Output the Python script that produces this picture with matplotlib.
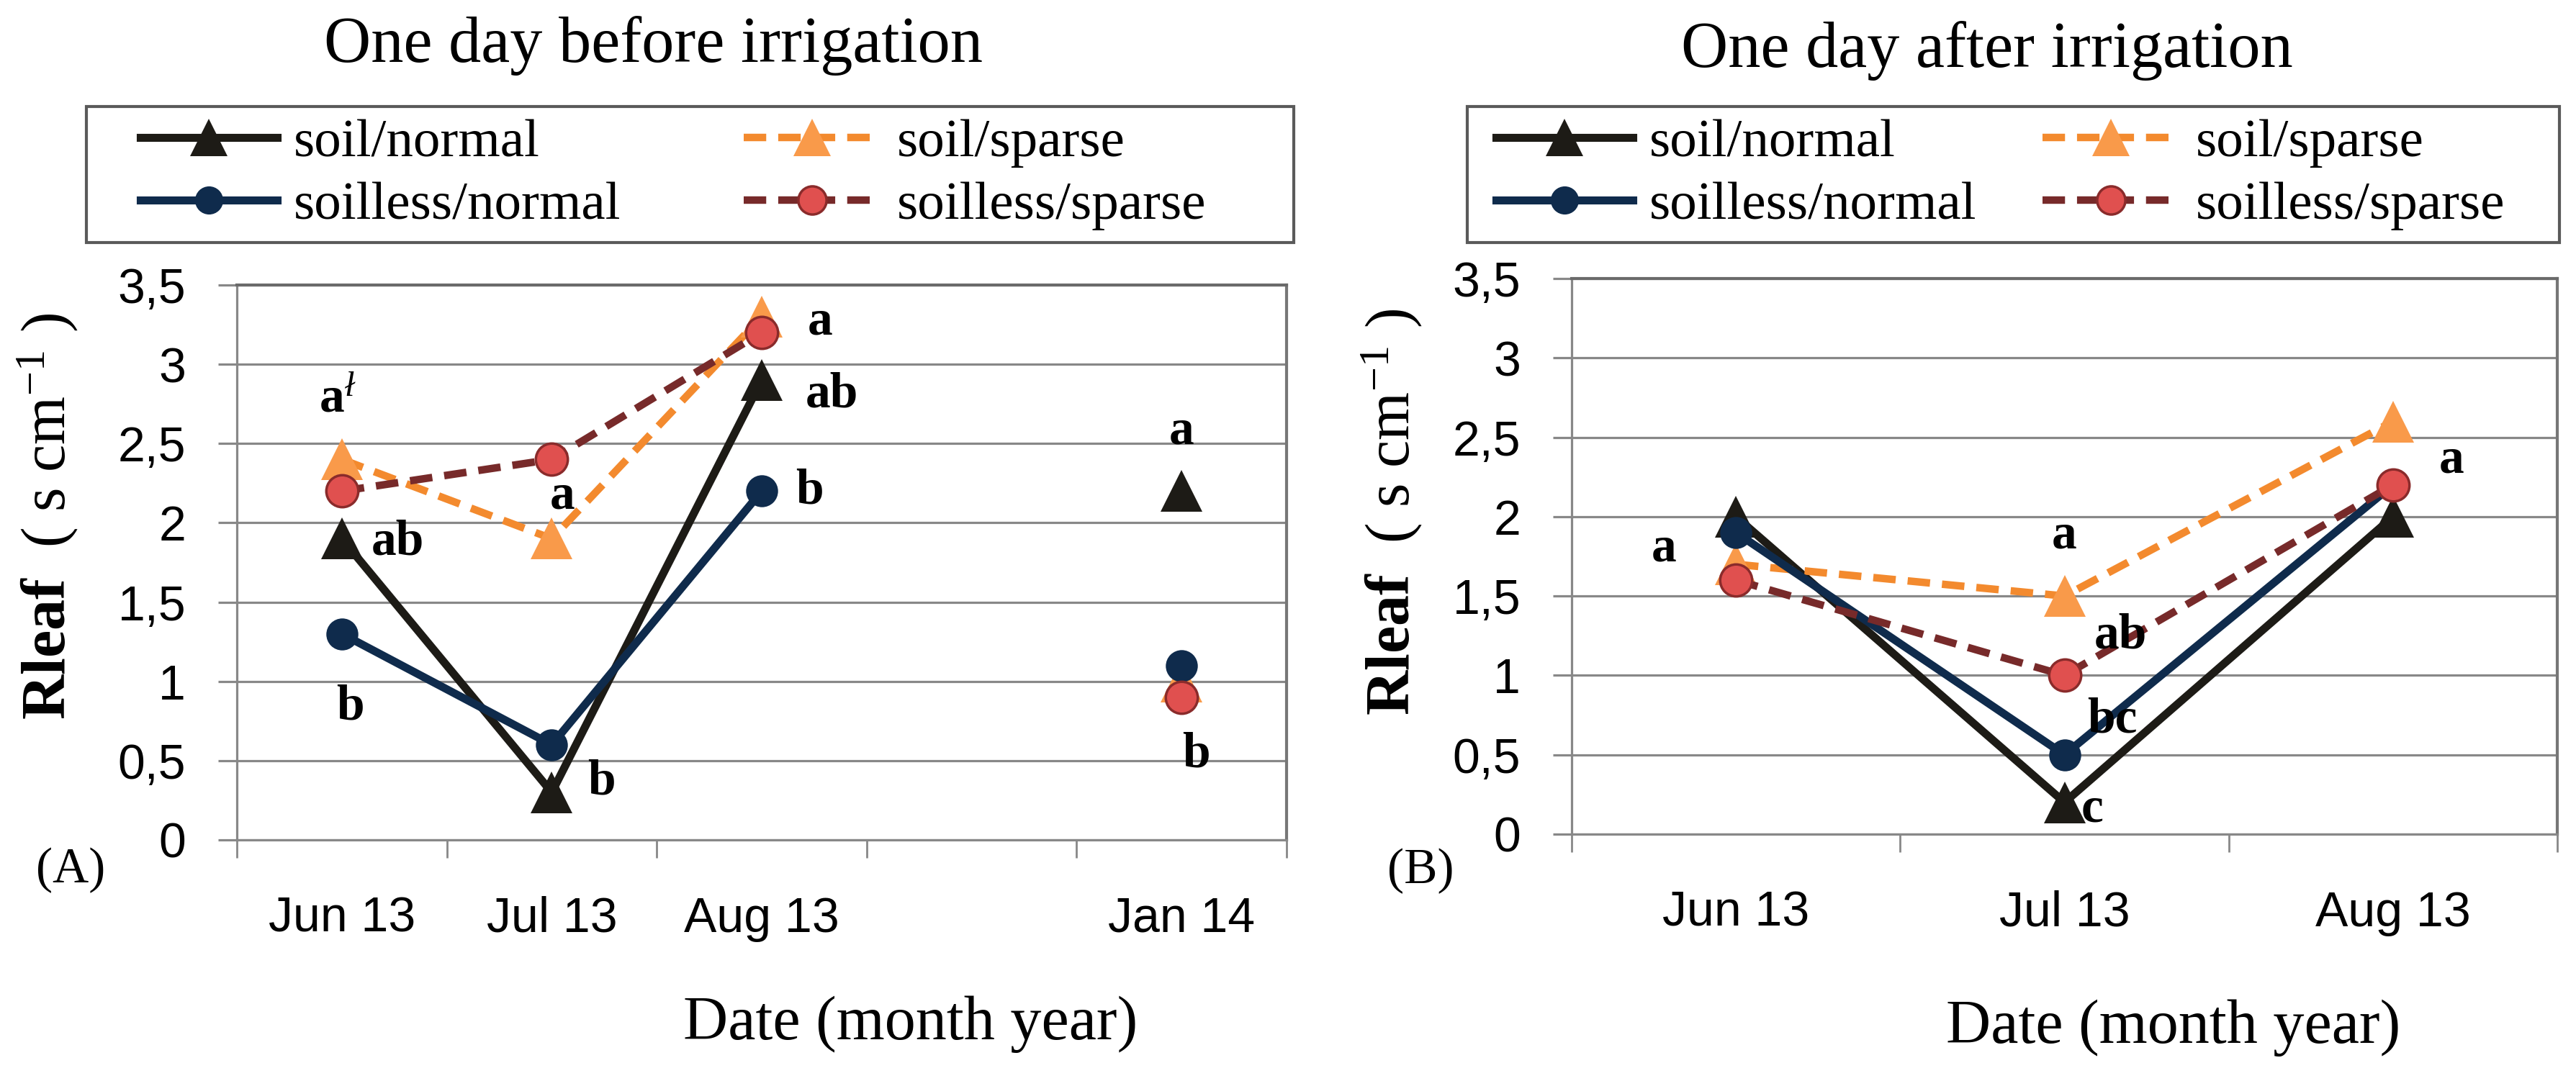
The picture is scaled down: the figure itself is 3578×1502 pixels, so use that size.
import numpy as np
import matplotlib
matplotlib.use("Agg")
import matplotlib.pyplot as plt
from matplotlib.lines import Line2D
from matplotlib.patches import Rectangle

# ---------------- data ----------------
cats_a = ["Jun 13", "Jul 13", "Aug 13", "", "Jan 14"]
soil_normal_a = [1.9, 0.3, 2.9, np.nan, 2.2]
soil_sparse_a = [2.4, 1.9, 3.3, np.nan, 1.0]
soilless_normal_a = [1.3, 0.6, 2.2, np.nan, 1.1]
soilless_sparse_a = [2.2, 2.4, 3.2, np.nan, 0.9]

cats_b = ["Jun 13", "Jul 13", "Aug 13"]
soil_normal_b = [2.0, 0.2, 2.0]
soil_sparse_b = [1.7, 1.5, 2.6]
soilless_normal_b = [1.9, 0.5, 2.2]
soilless_sparse_b = [1.6, 1.0, 2.2]

series_names = ["soil/normal", "soil/sparse", "soilless/normal", "soilless/sparse"]
yticks = [0, 0.5, 1, 1.5, 2, 2.5, 3, 3.5]
ytick_labels = ["0", "0,5", "1", "1,5", "2", "2,5", "3", "3,5"]

# significance letters: (category index, y value, text, horizontal shift, ha)
letters_a = [
    (0, 2.70, r"a$^{ł}$", -0.02, "center"),
    (0, 1.80, "ab", 0.14, "left"),
    (0, 0.76, "b", 0.04, "center"),
    (1, 2.09, "a", 0.05, "center"),
    (1, 0.29, "b", 0.17, "left"),
    (2, 3.19, "a", 0.22, "left"),
    (2, 2.73, "ab", 0.21, "left"),
    (2, 2.12, "b", 0.16, "left"),
    (4, 2.50, "a", 0.0, "center"),
    (4, 0.46, "b", 0.07, "center"),
]
letters_b = [
    (0, 1.72, "a", -0.22, "center"),
    (1, 1.80, "a", 0.0, "center"),
    (1, 1.17, "ab", 0.09, "left"),
    (1, 0.64, "bc", 0.07, "left"),
    (1, 0.08, "c", 0.05, "left"),
    (2, 2.28, "a", 0.14, "left"),
]

# ---------------- style ----------------
plt.rcParams["font.family"] = ["Liberation Serif", "DejaVu Serif"]
plt.rcParams["mathtext.fontset"] = "custom"
plt.rcParams["mathtext.rm"] = "Liberation Serif"
plt.rcParams["mathtext.bf"] = "Liberation Serif:bold"
plt.rcParams["mathtext.it"] = "Liberation Serif:italic"

TICKFONT = ["Liberation Sans Narrow", "Liberation Sans", "DejaVu Sans"]
GRID = "#888888"

styles = {
    "soil/normal": dict(color="#1d1b16", ls="-", lw=8, marker="^", ms=42,
                        mfc="#1d1b16", mec="#1d1b16", mew=0),
    "soil/sparse": dict(color="#f38a2e", ls=(0, (3, 1.6)), lw=7.5, marker="^", ms=42,
                        mfc="#f99a4a", mec="#f99a4a", mew=0),
    "soilless/normal": dict(color="#0f2b4c", ls="-", lw=8, marker="o", ms=32,
                            mfc="#0f2b4c", mec="#0f2b4c", mew=0),
    "soilless/sparse": dict(color="#772a2a", ls=(0, (3, 1.6)), lw=7.5, marker="o", ms=32,
                            mfc="#e0504f", mec="#8a2b2b", mew=2.5),
}

W, H = 3578, 1502
fig = plt.figure(figsize=(W / 100, H / 100), dpi=100)

def fx(px):
    return px / W

def fy(py):
    return 1 - py / H

def make_panel(rect, cats, data, letters, title, title_xy, xlabel_xy, ylabel_x,
               panel_tag, tag_xy, legend_box, legend_cols_x, ylabel_yc):
    ax = fig.add_axes(rect)
    x = np.arange(len(cats))
    for name in series_names:
        st = styles[name]
        ax.plot(x, data[name], linestyle=st["ls"], color=st["color"], lw=st["lw"],
                marker=st["marker"], markersize=st["ms"], markerfacecolor=st["mfc"],
                markeredgecolor=st["mec"], markeredgewidth=st["mew"],
                solid_joinstyle="miter", dash_capstyle="butt", zorder=3)
    ax.set_xlim(-0.5, len(cats) - 0.5)
    ax.set_ylim(0, 3.5)
    ax.set_yticks(yticks)
    ax.set_yticklabels(ytick_labels, family=TICKFONT, fontsize=49)
    ax.grid(axis="y", color=GRID, lw=2.3, zorder=0)
    ax.set_axisbelow(True)
    ax.set_xticks(x)
    ax.set_xticklabels(cats, family=TICKFONT, fontsize=49)
    ax.set_xticks(np.arange(len(cats) + 1) - 0.5, minor=True)
    ax.tick_params(axis="x", which="major", length=0, pad=56)
    ax.tick_params(axis="x", which="minor", length=18, width=2, color=GRID, direction="out")
    ax.tick_params(axis="y", length=19, width=2.3, color=GRID, direction="out", pad=32)
    for side in ["left", "right", "bottom"]:
        ax.spines[side].set_color(GRID)
        ax.spines[side].set_linewidth(2.3)
    ax.spines["top"].set_color("#6a6a6a")
    ax.spines["top"].set_linewidth(3)
    ax.spines["right"].set_color("#777777")
    ax.spines["right"].set_linewidth(3)

    for (ci, yv, txt, dx, ha) in letters:
        ax.text(ci + dx, yv, txt, ha=ha, va="baseline", fontsize=50,
                fontweight="bold", zorder=5)

    fig.text(fx(title_xy[0]), fy(title_xy[1]), title, ha="center", va="baseline",
             fontsize=65)
    fig.text(fx(xlabel_xy[0]), fy(xlabel_xy[1]), "Date (month year)", ha="center",
             va="baseline", fontsize=62)
    fig.text(fx(ylabel_x), fy(ylabel_yc), r"$\mathbf{Rleaf}$  ( s cm$^{-1}$ )",
             rotation=90, ha="center", va="center", fontsize=62)
    fig.text(fx(tag_xy[0]), fy(tag_xy[1]), panel_tag, ha="center", va="center",
             fontsize=50)

    # legend: frame + two columns
    x0, y0, x1, y1 = legend_box
    fig.add_artist(Rectangle((fx(x0), fy(y1)), fx(x1) - fx(x0), fy(y0) - fy(y1),
                             transform=fig.transFigure, fill=False,
                             edgecolor="#5a5a5a", lw=3))
    columns = [["soil/normal", "soilless/normal"], ["soil/sparse", "soilless/sparse"]]
    for col_names, cx in zip(columns, legend_cols_x):
        handles = []
        for name in col_names:
            st = styles[name]
            handles.append(Line2D([], [], linestyle=st["ls"], color=st["color"], lw=st["lw"],
                                  marker=st["marker"], markersize=st["ms"] * 0.88,
                                  markerfacecolor=st["mfc"], markeredgecolor=st["mec"],
                                  markeredgewidth=st["mew"], dash_capstyle="butt"))
        leg = fig.legend(handles, col_names, loc="center left",
                         bbox_to_anchor=(fx(cx), fy((y0 + y1) / 2)),
                         fontsize=54, frameon=False, handlelength=2.53,
                         handletextpad=0.31, labelspacing=0.25, borderpad=0,
                         borderaxespad=0)
    return ax

data_a = {"soil/normal": soil_normal_a, "soil/sparse": soil_sparse_a,
          "soilless/normal": soilless_normal_a, "soilless/sparse": soilless_sparse_a}
data_b = {"soil/normal": soil_normal_b, "soil/sparse": soil_sparse_b,
          "soilless/normal": soilless_normal_b, "soilless/sparse": soilless_sparse_b}

rect_a = [fx(329), fy(1167), fx(1787) - fx(329), fy(396) - fy(1167)]
rect_b = [fx(2183), fy(1159), fx(3552) - fx(2183), fy(387) - fy(1159)]

make_panel(rect_a, cats_a, data_a, letters_a, "One day before irrigation", (907, 86),
           (1265, 1444), 66, "(A)", (98, 1209), (120, 148, 1797, 337), (195, 1033), 718)
make_panel(rect_b, cats_b, data_b, letters_b, "One day after irrigation", (2760, 93),
           (3019, 1449), 1933, "(B)", (1973, 1210), (2038, 148, 3555, 337), (2078, 2837), 712)

fig.savefig("out.png", dpi=100, facecolor="white")
